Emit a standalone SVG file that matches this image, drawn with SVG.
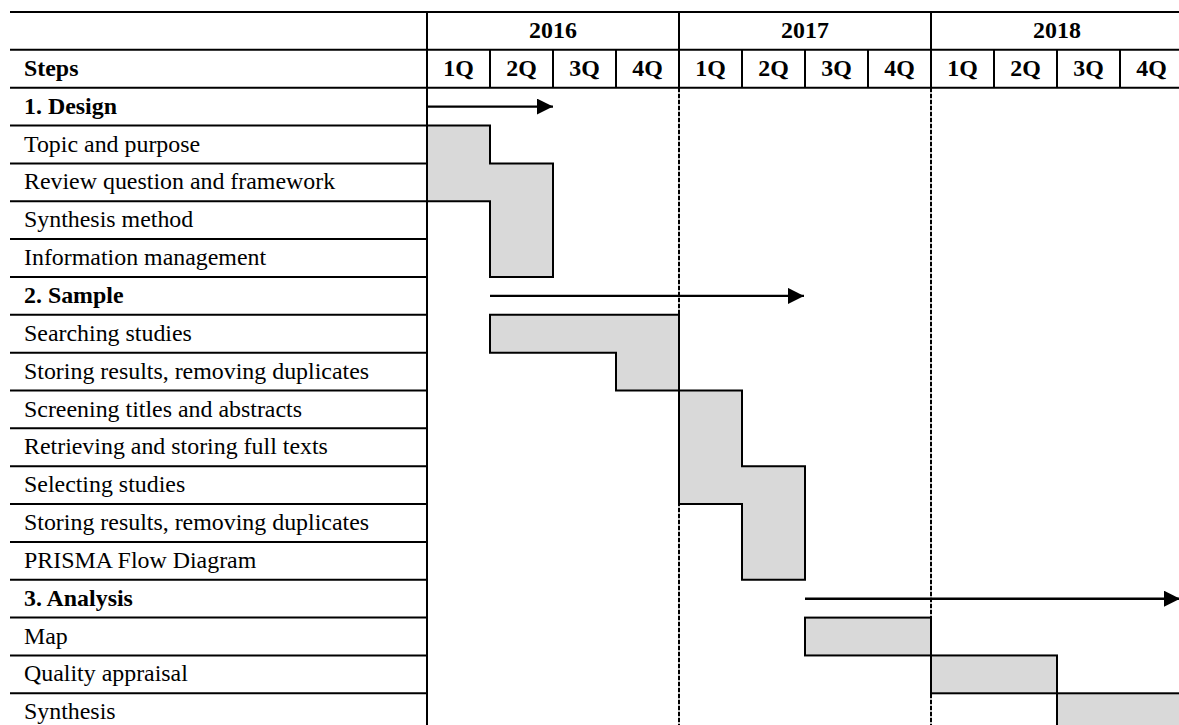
<svg xmlns="http://www.w3.org/2000/svg" width="1179" height="725" viewBox="0 0 1179 725">
  <style>
    text { font-family: "Liberation Serif", "Times New Roman", serif; font-size: 23.9px; fill: #000; }
    .b { font-weight: bold; }
    .c { text-anchor: middle; }
    .rule { stroke: #000; stroke-width: 2; fill: none; }
    .dash { stroke: #000; stroke-width: 2; stroke-dasharray: 4.5 1.5; fill: none; }
    .bar { fill: #d9d9d9; stroke: #000; stroke-width: 2; stroke-linejoin: miter; }
    .arrow { stroke: #000; stroke-width: 2.4; fill: none; marker-end: url(#head); }
  </style>
  <defs>
    <marker id="head" markerUnits="userSpaceOnUse" markerWidth="17" markerHeight="17" refX="16" refY="8" orient="auto" viewBox="0 0 17 17">
      <path d="M0,0 L16,8 L0,16 Z" fill="#000"/>
    </marker>
  </defs>
  <rect width="1179" height="725" fill="#fff"/>

  <!-- table grid -->
  <g id="grid">
    <!-- header rules, full width -->
    <line class="rule" x1="10" y1="12" x2="1185" y2="12"/>
    <line class="rule" x1="10" y1="49.85" x2="1185" y2="49.85"/>
    <line class="rule" x1="10" y1="87.7" x2="1185" y2="87.7"/>
    <!-- step rows, label column only -->
    <path class="rule" d="M10,125.55H427 M10,163.4H427 M10,201.25H427 M10,239.1H427 M10,276.95H427 M10,314.8H427 M10,352.65H427 M10,390.5H427 M10,428.35H427 M10,466.2H427 M10,504.05H427 M10,541.9H427 M10,579.75H427 M10,617.6H427 M10,655.45H427 M10,693.3H427 M10,731.15H427"/>
    <!-- label column border -->
    <line class="rule" x1="427" y1="12" x2="427" y2="735"/>
    <!-- year borders -->
    <path class="rule" d="M679,12V87.7 M931,12V87.7"/>
    <path class="dash" d="M679,87.7V735 M931,87.7V735"/>
    <!-- quarter borders -->
    <path class="rule" d="M490,49.85V87.7 M553,49.85V87.7 M616,49.85V87.7 M742,49.85V87.7 M805,49.85V87.7 M868,49.85V87.7 M994,49.85V87.7 M1057,49.85V87.7 M1120,49.85V87.7"/>
  </g>

  <!-- header labels -->
  <g id="years">
    <text class="b c" x="553" y="38">2016</text>
    <text class="b c" x="805" y="38">2017</text>
    <text class="b c" x="1057" y="38">2018</text>
  </g>
  <g id="quarters">
    <text class="b" x="24" y="75.85">Steps</text>
    <text class="b c" x="458.5" y="75.85">1Q</text>
    <text class="b c" x="521.5" y="75.85">2Q</text>
    <text class="b c" x="584.5" y="75.85">3Q</text>
    <text class="b c" x="647.5" y="75.85">4Q</text>
    <text class="b c" x="710.5" y="75.85">1Q</text>
    <text class="b c" x="773.5" y="75.85">2Q</text>
    <text class="b c" x="836.5" y="75.85">3Q</text>
    <text class="b c" x="899.5" y="75.85">4Q</text>
    <text class="b c" x="962.5" y="75.85">1Q</text>
    <text class="b c" x="1025.5" y="75.85">2Q</text>
    <text class="b c" x="1088.5" y="75.85">3Q</text>
    <text class="b c" x="1151.5" y="75.85">4Q</text>
  </g>

  <!-- phase 1: design -->
  <g id="design">
    <text class="b" x="24" y="113.7">1. Design</text>
    <text x="24" y="151.55">Topic and purpose</text>
    <text x="24" y="189.4">Review question and framework</text>
    <text x="24" y="227.25">Synthesis method</text>
    <text x="24" y="265.1">Information management</text>
    <path id="design-bar" class="bar" d="M427,125.55H490V163.4H553V276.95H490V201.25H427Z"/>
  </g>

  <!-- phase 2: sample -->
  <g id="sample">
    <text class="b" x="24" y="302.95">2. Sample</text>
    <text x="24" y="340.8">Searching studies</text>
    <text x="24" y="378.65">Storing results, removing duplicates</text>
    <text x="24" y="416.5">Screening titles and abstracts</text>
    <text x="24" y="454.35">Retrieving and storing full texts</text>
    <text x="24" y="492.2">Selecting studies</text>
    <text x="24" y="530.05">Storing results, removing duplicates</text>
    <text x="24" y="567.9">PRISMA Flow Diagram</text>
    <path id="search-bar" class="bar" d="M490,314.8H679V390.5H616V352.65H490Z"/>
    <path id="select-bar" class="bar" d="M679,390.5H742V466.2H805V579.75H742V504.05H679Z"/>
  </g>

  <!-- phase 3: analysis -->
  <g id="analysis">
    <text class="b" x="24" y="605.75">3. Analysis</text>
    <text x="24" y="643.6">Map</text>
    <text x="24" y="681.45">Quality appraisal</text>
    <text x="24" y="719.3">Synthesis</text>
    <rect id="map-bar" class="bar" x="805" y="617.6" width="126" height="37.85"/>
    <rect id="quality-bar" class="bar" x="931" y="655.45" width="126" height="37.85"/>
    <rect id="synthesis-bar" class="bar" x="1057" y="693.3" width="126" height="37.85"/>
  </g>

  <!-- phase spans -->
  <g id="connectors">
    <line class="arrow" x1="427" y1="106.6" x2="553" y2="106.6"/>
    <line class="arrow" x1="490" y1="295.9" x2="804" y2="295.9"/>
    <line class="arrow" x1="805" y1="598.7" x2="1180" y2="598.7"/>
  </g>
</svg>
